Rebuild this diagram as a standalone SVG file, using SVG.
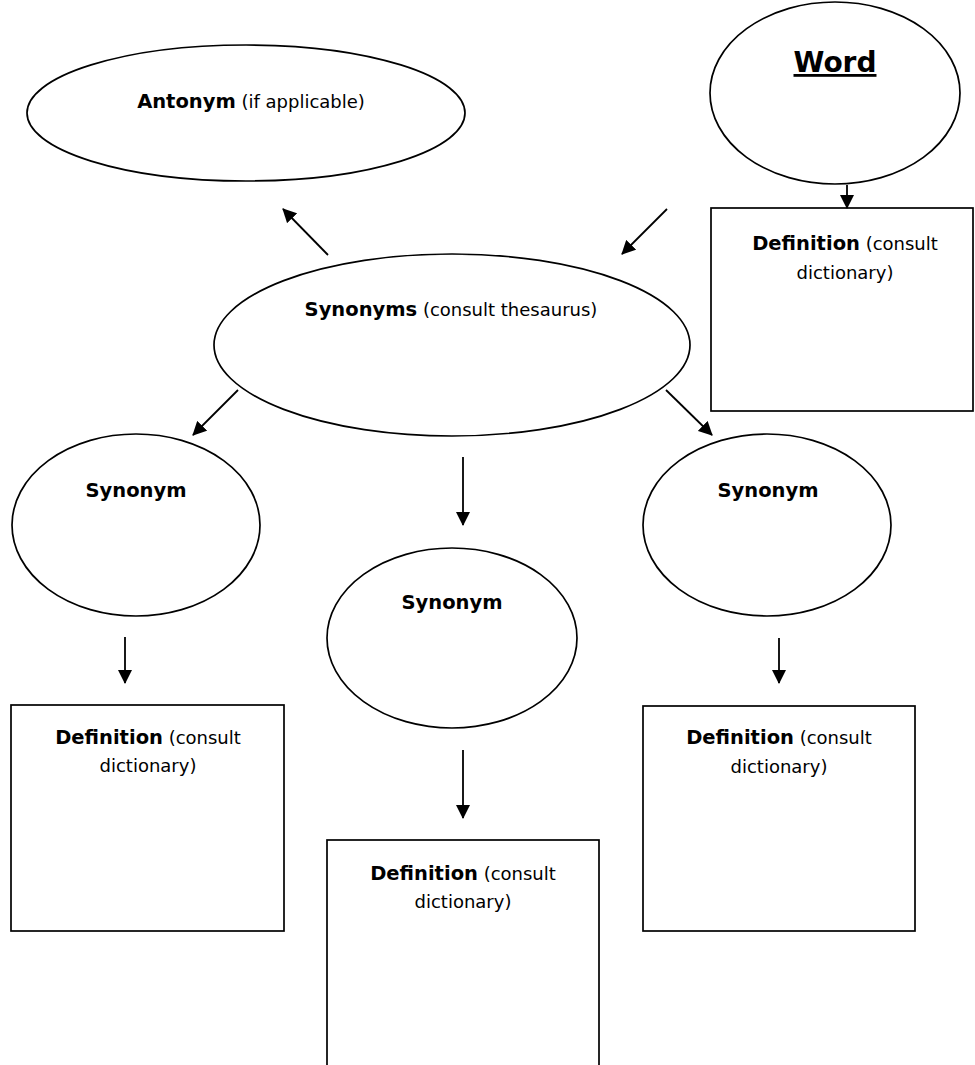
<svg xmlns="http://www.w3.org/2000/svg" width="975" height="1065" viewBox="0 0 975 1065">
<style>
.shape{fill:#fff;stroke:#000;stroke-width:1.7}
.b{font-family:"DejaVu Sans",sans-serif;font-weight:bold;font-size:19.5px;fill:#000}
.r{font-family:"DejaVu Sans",sans-serif;font-size:18px;fill:#000}
.conn line{stroke:#000;stroke-width:1.8}
</style>
<defs>
<marker id="ah" viewBox="0 0 14 14" refX="13" refY="7" markerWidth="14" markerHeight="14" markerUnits="userSpaceOnUse" orient="auto">
<path d="M0,0 L14,7 L0,14 z" fill="#000"/>
</marker>
</defs>
<rect width="975" height="1065" fill="#fff"/>

<g id="word">
<ellipse class="shape" cx="835" cy="93" rx="125" ry="91"/>
<text x="835" y="72" text-anchor="middle" font-family="DejaVu Sans, sans-serif" font-weight="bold" font-size="28" text-decoration="underline">Word</text>
</g>

<g id="word-definition">
<rect class="shape" x="711" y="208" width="262" height="203"/>
<text x="845" y="250" text-anchor="middle"><tspan class="b">Definition</tspan><tspan class="r">  (consult</tspan></text>
<text x="845" y="279" text-anchor="middle" class="r">dictionary)</text>
</g>

<g id="antonym">
<ellipse class="shape" cx="246" cy="113" rx="219" ry="68"/>
<text x="251" y="108" text-anchor="middle"><tspan class="b">Antonym</tspan><tspan class="r">  (if applicable)</tspan></text>
</g>

<g id="synonyms">
<ellipse class="shape" cx="452" cy="345" rx="238" ry="91"/>
<text x="451" y="316" text-anchor="middle"><tspan class="b">Synonyms</tspan><tspan class="r">  (consult thesaurus)</tspan></text>
</g>

<g id="synonym-left">
<ellipse class="shape" cx="136" cy="525" rx="124" ry="91"/>
<text x="136" y="497" text-anchor="middle" class="b">Synonym</text>
</g>

<g id="synonym-middle">
<ellipse class="shape" cx="452" cy="638" rx="125" ry="90"/>
<text x="452" y="609" text-anchor="middle" class="b">Synonym</text>
</g>

<g id="synonym-right">
<ellipse class="shape" cx="767" cy="525" rx="124" ry="91"/>
<text x="768" y="497" text-anchor="middle" class="b">Synonym</text>
</g>

<g id="definition-left">
<rect class="shape" x="11" y="705" width="273" height="226"/>
<text x="148" y="744" text-anchor="middle"><tspan class="b">Definition</tspan><tspan class="r">  (consult</tspan></text>
<text x="148" y="772" text-anchor="middle" class="r">dictionary)</text>
</g>

<g id="definition-middle">
<rect class="shape" x="327" y="840" width="272" height="240"/>
<text x="463" y="880" text-anchor="middle"><tspan class="b">Definition</tspan><tspan class="r">  (consult</tspan></text>
<text x="463" y="908" text-anchor="middle" class="r">dictionary)</text>
</g>

<g id="definition-right">
<rect class="shape" x="643" y="706" width="272" height="225"/>
<text x="779" y="744" text-anchor="middle"><tspan class="b">Definition</tspan><tspan class="r">  (consult</tspan></text>
<text x="779" y="773" text-anchor="middle" class="r">dictionary)</text>
</g>

<g id="connectors" class="conn">
<line x1="847" y1="185" x2="847" y2="208" marker-end="url(#ah)"/>
<line x1="667" y1="209" x2="622" y2="254" marker-end="url(#ah)"/>
<line x1="328" y1="255" x2="283" y2="209" marker-end="url(#ah)"/>
<line x1="238" y1="390" x2="193" y2="435" marker-end="url(#ah)"/>
<line x1="666" y1="390" x2="712" y2="435" marker-end="url(#ah)"/>
<line x1="463" y1="457" x2="463" y2="525" marker-end="url(#ah)"/>
<line x1="125" y1="637" x2="125" y2="683" marker-end="url(#ah)"/>
<line x1="779" y1="638" x2="779" y2="683" marker-end="url(#ah)"/>
<line x1="463" y1="750" x2="463" y2="818" marker-end="url(#ah)"/>
</g>
</svg>
